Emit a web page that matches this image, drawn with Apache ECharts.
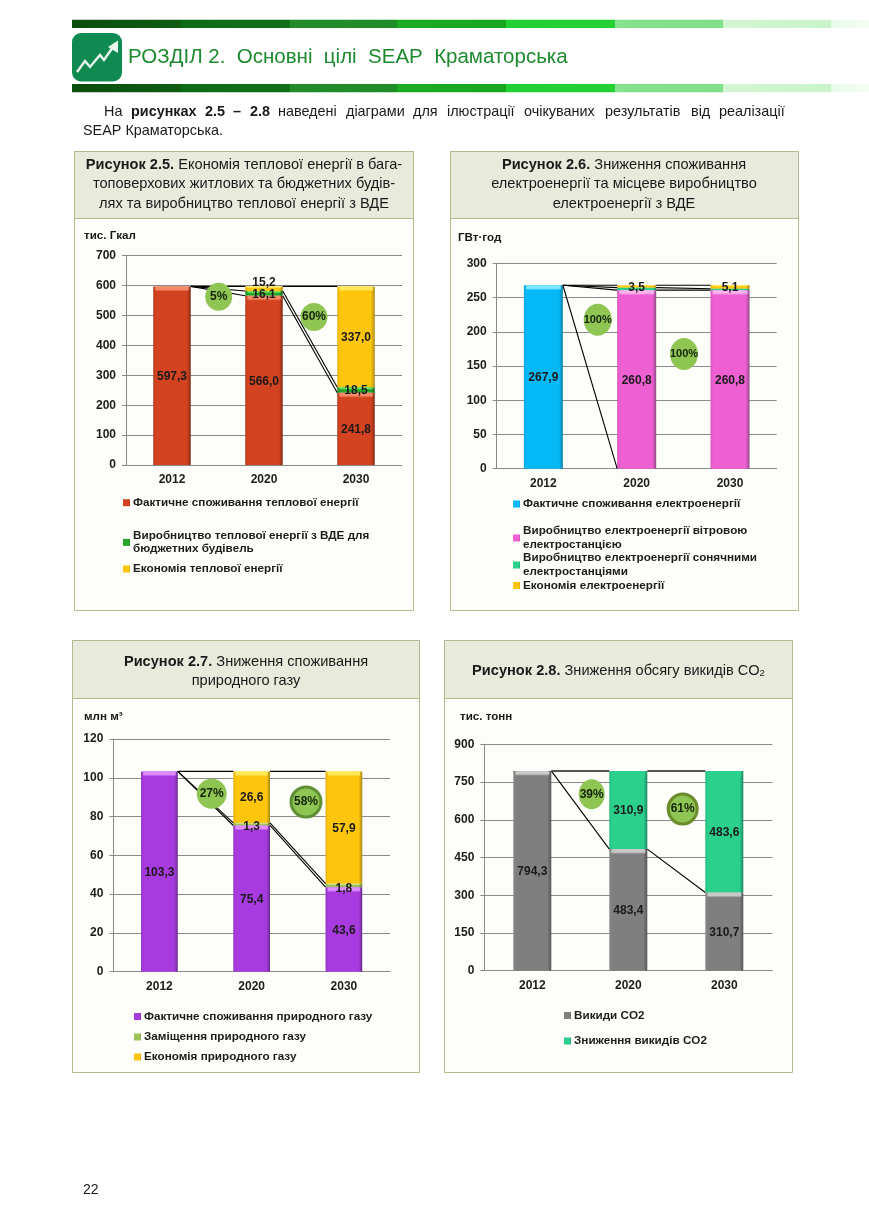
<!DOCTYPE html>
<html><head><meta charset="utf-8">
<style>html,body{margin:0;padding:0;background:#fff}#c{width:869px;height:1228px}</style>
<script src="https://cdn.jsdelivr.net/npm/echarts@6/dist/echarts.min.js"></script>
</head><body><div id="c"></div>
<script>
const years = ['2012','2020','2030'];

// Рисунок 2.5
const heatActual = [597.3, 566.0, 241.8];
const heatRenewable = [0, 16.1, 18.5];
const heatSaving = [0, 15.2, 337.0];
const heatTicks = [0, 700, 100];
// Рисунок 2.6
const powerActual = [267.9, 0, 0];
const powerWind = [0, 260.8, 260.8];
const powerSolar = [0, 3.6, 2.0];
const powerSaving = [0, 3.5, 5.1];
const powerTicks = [0, 300, 50];
// Рисунок 2.7
const gasActual = [103.3, 75.4, 43.6];
const gasReplace = [0, 1.3, 1.8];
const gasSaving = [0, 26.6, 57.9];
const gasTicks = [0, 120, 20];
// Рисунок 2.8
const co2Actual = [794.3, 483.4, 310.7];
const co2Saving = [0, 310.9, 483.6];
const co2Ticks = [0, 900, 150];

const FONT = '"Liberation Sans", Arial, sans-serif';
const INK = '#1c1c1c';

function shade(mid, edgeL, edgeR){
  return {type:'linear',x:0,y:0,x2:1,y2:0,colorStops:[
    {offset:0,color:edgeL},{offset:.07,color:mid},{offset:.9,color:mid},{offset:1,color:edgeR}]};
}
const RED = {c:shade('#d4431f','#b03a1c','#7e2c16'),hi:'#f58a68'};
const GRN = {c:shade('#27a62c','#1c8a22','#12661a'),hi:'#6fe25f'};
const YEL = {c:shade('#fdc60c','#e4b00c','#a98a14'),hi:'#ffe95a'};
const BLU = {c:shade('#05b9f7','#10a8dc','#0f7fa8'),hi:'#7fe6ff'};
const PNK = {c:shade('#ee5fd2','#d653bb','#94478a'),hi:'#ffb4ee'};
const TEA = {c:shade('#2bd08c','#25b87c','#1c8a62'),hi:'#2bd08c'};
const PUR = {c:shade('#a83be0','#9433c6','#6a2a8e'),hi:'#e08cff'};
const OLV = {c:shade('#9cc25a','#8aac50','#5f7a3a'),hi:'#c6e08a'};
const GRY = {c:shade('#7f7f7f','#8a8a8a','#565656'),hi:'#c8c8c8'};

const charts = [
 {box:[126,255.7,276,209.3], bw:37.5, ticks:heatTicks, unit:'тис. Гкал', unitPos:[84,236],
  stacks:[
   {name:'Фактичне споживання теплової енергії', data:heatActual, st:RED, shift:[0,0,0]},
   {name:'Виробництво теплової енергії з ВДЕ для\nбюджетних будівель', data:heatRenewable, st:GRN, shift:[0,0,0]},
   {name:'Економія теплової енергії', data:heatSaving, st:YEL, shift:[0,-7,0]}],
  legends:[[123,502.7],[123,542.4],[123,569]]},
 {box:[496.7,263.3,280,205.4], bw:39, ticks:powerTicks, unit:'ГВт·год', unitPos:[458,238],
  stacks:[
   {name:'Фактичне споживання електроенергії', data:powerActual, st:BLU, shift:[0,0,0]},
   {name:'Виробництво електроенергії вітровою\nелектростанцією', data:powerWind, st:PNK, shift:[0,0,0]},
   {name:'Виробництво електроенергії сонячними\nелектростанціями', data:powerSolar, st:TEA, shift:[0,0,0], noLabel:true},
   {name:'Економія електроенергії', data:powerSaving, st:YEL, shift:[0,0,0]}],
  legends:[[513,504],[513,538],[513,565],[513,585.5]]},
 {box:[113.3,739,276.7,232.7], bw:36.7, ticks:gasTicks, unit:'млн м³', unitPos:[84,717],
  stacks:[
   {name:'Фактичне споживання природного газу', data:gasActual, st:PUR, shift:[0,0,0]},
   {name:'Заміщення природного газу', data:gasReplace, st:OLV, shift:[0,1,2]},
   {name:'Економія природного газу', data:gasSaving, st:YEL, shift:[0,0,0]}],
  legends:[[134,1016.5],[134,1037],[134,1057]]},
 {box:[484.3,744.3,288,226.4], bw:38, ticks:co2Ticks, unit:'тис. тонн', unitPos:[460,717], topLine:{stroke:'#555',width:2},
  stacks:[
   {name:'Викиди CO2', data:co2Actual, st:GRY, shift:[0,0,0]},
   {name:'Зниження викидів CO2', data:co2Saving, st:TEA, shift:[0,0,0]}],
  legends:[[564,1015.5],[564,1041]]}
];

const badgeList = [
 {t:'5%',   x:218.7,y:296.7,rx:13.5,ry:14},
 {t:'60%',  x:314,  y:317,  rx:13.5,ry:14},
 {t:'100%', x:597.7,y:319.7,rx:14,  ry:16, tight:true},
 {t:'100%', x:684,  y:354,  rx:14,  ry:16, tight:true},
 {t:'27%',  x:211.7,y:793.7,rx:15,  ry:15},
 {t:'58%',  x:306,  y:802,  rx:15,  ry:15, ring:'#5f8f35'},
 {t:'39%',  x:591.7,y:794.3,rx:13,  ry:15},
 {t:'61%',  x:682.7,y:809,  rx:14.5,ry:15, ring:'#6b8a2a'}
];

const panels = [
 {x:74.5,y:151.5,w:339,h:459,head:67,cx:244,lines:[
   [{b:'Рисунок 2.5. '},{n:'Економія теплової енергії в бага-'}],
   [{n:'топоверхових житлових та бюджетних будів-'}],
   [{n:'лях та виробництво теплової енергії з ВДЕ'}]],ly:164.5},
 {x:450.5,y:151.5,w:348,h:459,head:67,cx:624,lines:[
   [{b:'Рисунок 2.6. '},{n:'Зниження споживання'}],
   [{n:'електроенергії та місцеве виробництво'}],
   [{n:'електроенергії з ВДЕ'}]],ly:164.5},
 {x:72.5,y:640.5,w:347,h:432,head:58,cx:246,lines:[
   [{b:'Рисунок 2.7. '},{n:'Зниження споживання'}],
   [{n:'природного газу'}]],ly:661.5},
 {x:444.5,y:640.5,w:348,h:432,head:58,cx:618.5,lines:[
   [{b:'Рисунок 2.8. '},{n:'Зниження обсягу викидів CO'},{s:'2'}]],ly:670.5}
];

const headSegs = [[72,181,'#0b4d0e','#0e5c12'],[181,290,'#0d6b14','#10701a'],[290,397,'#238a2a','#1f8d26'],
  [397,506,'#1aab22','#18a820'],[506,615,'#22cf30','#25d033'],[615,723,'#86e28c','#80df88'],
  [723,831,'#d2f6d2','#caf3ca'],[831,869,'#eafbea','#f2fdf2']];

const graphic = [];
function txt(x,y,text,o){ graphic.push({type:'text',x,y,z:o.z||5,silent:true,
  style:Object.assign({text,font:o.font,fill:o.fill||'#1a1a1a',textAlign:o.align||'left',textVerticalAlign:'middle'},o.rich?{rich:o.rich}:{})}); }

[[19.7,8.3],[84,8.3]].forEach(([y,h])=>headSegs.forEach(s=>graphic.push({type:'rect',z:-5,silent:true,
  shape:{x:s[0],y,width:s[1]-s[0],height:h},
  style:{fill:{type:'linear',x:0,y:0,x2:1,y2:0,colorStops:[{offset:0,color:s[2]},{offset:1,color:s[3]}]}}})));
graphic.push({type:'rect',z:-5,silent:true,shape:{x:72,y:33,width:50,height:48.5,r:9},style:{fill:'#0f8a50'}});
graphic.push({type:'polyline',z:-4,silent:true,shape:{points:[[77,72],[85,61],[90,67],[100,55],[104,60],[113,47]]},
  style:{stroke:'#e8f6ee',lineWidth:2.4,fill:'none'}});
graphic.push({type:'polygon',z:-4,silent:true,shape:{points:[[118,40.5],[118,53],[108,47]]},style:{fill:'#e8f6ee'}});
txt(128,57,'РОЗДІЛ 2.  Основні  цілі  SEAP  Краматорська',{font:'20.5px '+FONT,fill:'#1d8a2f'});

const bodyFont='14.4px '+FONT, bodyBold='bold 14.4px '+FONT;
[[104,'На',0],[131,'рисунках',1],[205,'2.5',1],[233,'–',1],[250,'2.8',1],[278,'наведені',0],[346,'діаграми',0],[413,'для',0],[447,'ілюстрації',0],
 [524,'очікуваних',0],[605,'результатів',0],[691,'від',0],[719,'реалізації',0]].forEach(w=>
   txt(w[0],112,w[1],{font:w[2]?bodyBold:bodyFont}));
txt(83,131,'SEAP Краматорська.',{font:bodyFont});
txt(83,1190,'22',{font:'14px '+FONT});

panels.forEach(p=>{
  graphic.push({type:'rect',z:-5,silent:true,shape:{x:p.x,y:p.y,width:p.w,height:p.h},style:{fill:'#fdfdf9',stroke:'#aebd8e',lineWidth:1}});
  graphic.push({type:'rect',z:-4,silent:true,shape:{x:p.x,y:p.y,width:p.w,height:p.head},style:{fill:'#e8ebdc',stroke:'#aebd8e',lineWidth:1}});
  p.lines.forEach((ln,i)=>{
    const text=ln.map(r=>r.b?`{b|${r.b}}`:r.s?`{s|${r.s}}`:`{n|${r.n}}`).join('');
    txt(p.cx,p.ly+i*19.5,text,{font:'14.6px '+FONT,align:'center',rich:{
      b:{font:'bold 14.6px '+FONT,fill:'#1a1a1a'},n:{font:'14.6px '+FONT,fill:'#1a1a1a'},
      s:{font:'9.5px '+FONT,fill:'#1a1a1a',padding:[5,0,0,0]}}});
  });
});
charts.forEach(c=>txt(c.unitPos[0],c.unitPos[1],c.unit,{font:'bold 11.6px '+FONT}));
badgeList.forEach(b=>{
  graphic.push({type:'ellipse',z:60,silent:true,shape:{cx:b.x,cy:b.y,rx:b.rx,ry:b.ry},
    style:b.ring?{fill:'#8fc552',stroke:b.ring,lineWidth:3}:{fill:'#8fc552'}});
  txt(b.x,b.y,b.t,{font:(b.tight?'bold 11px ':'bold 12px ')+FONT,align:'center',z:61,fill:'#14240c'});
});

const fmt = v => v.toFixed(1).replace('.',',');
const LEG_LH = 13.5;
const grid=[],xAxis=[],yAxis=[],series=[],legend=[];
charts.forEach((c,k)=>{
  grid.push({left:c.box[0],top:c.box[1],width:c.box[2],height:c.box[3],containLabel:false});
  xAxis.push({type:'category',gridIndex:k,data:years,axisTick:{show:false},
    axisLine:{lineStyle:{color:'#8a8a8a',width:1}},
    axisLabel:{color:INK,margin:9,fontWeight:'bold',fontSize:12,fontFamily:FONT}});
  yAxis.push({type:'value',gridIndex:k,min:c.ticks[0],max:c.ticks[1],interval:c.ticks[2],
    axisLine:{show:true,lineStyle:{color:'#8a8a8a',width:1}},
    axisTick:{show:true,length:4,lineStyle:{color:'#8a8a8a'}},
    splitLine:{show:true,lineStyle:{color:'#8a8a8a',width:1}},
    axisLabel:{color:INK,fontWeight:'bold',fontSize:12,fontFamily:FONT,margin:10}});

  c.stacks.forEach((s,j)=>{
    series.push({type:'bar',name:s.name,xAxisIndex:k,yAxisIndex:k,stack:'s'+k,barWidth:c.bw,z:2,
      itemStyle:{color:s.st.c},emphasis:{disabled:true},data:s.data});
    const p=c.legends[j];
    const nLines=s.name.split('\n').length;
    legend.push({data:[s.name],left:p[0],top:p[1]-nLines*LEG_LH/2,orient:'vertical',itemWidth:7,itemHeight:7,padding:0,selectedMode:false,
      icon:'rect',textStyle:{color:INK,fontWeight:'bold',fontSize:11.7,fontFamily:FONT,lineHeight:LEG_LH,padding:[0,0,0,-2]}});
  });

  // cumulative tops of the stack at each year
  const cum=c.stacks.map((_,j)=>years.map((_,i)=>c.stacks.slice(0,j+1).reduce((a,s)=>a+(s.data[i]||0),0)));
  // highlights on top of each segment
  const hiRows=[];
  c.stacks.forEach((s,j)=>years.forEach((_,i)=>{ if(s.data[i]>0) hiRows.push([i,cum[j][i],cum[j][i]-s.data[i],j]); }));
  series.push({type:'custom',silent:true,xAxisIndex:k,yAxisIndex:k,z:3,data:hiRows,clip:false,
    renderItem:(params,api)=>{
      const top=api.coord([api.value(0),api.value(1)]),bot=api.coord([api.value(0),api.value(2)]);
      const st=c.stacks[api.value(3)].st; const h=Math.min(5,(bot[1]-top[1])*0.45);
      return {type:'rect',shape:{x:top[0]-c.bw/2+2,y:top[1],width:c.bw-4,height:h,r:1.5},
        style:{fill:{type:'linear',x:0,y:0,x2:0,y2:1,colorStops:[{offset:0,color:st.hi},{offset:.6,color:st.hi},{offset:1,color:st.hi+'00'}]}}};
    }});
  // series lines between neighbouring bars
  const rows=[];
  c.stacks.forEach((s,j)=>[0,1].forEach(i=>{ if(cum[j][i]>0||cum[j][i+1]>0) rows.push([i,cum[j][i],i+1,cum[j][i+1]]); }));
  series.push({type:'custom',silent:true,xAxisIndex:k,yAxisIndex:k,z:4,data:rows,clip:false,
    renderItem:(params,api)=>{
      const a=api.coord([api.value(0),api.value(1)]),b=api.coord([api.value(2),api.value(3)]);
      const flat=api.value(1)===api.value(3)&&c.topLine;
      return {type:'line',shape:{x1:a[0]+c.bw/2,y1:a[1],x2:b[0]-c.bw/2,y2:b[1]},
        style:{stroke:flat?c.topLine.stroke:'#000',lineWidth:flat?c.topLine.width:1.1}};
    }});
  // value labels above everything
  const labRows=[];
  c.stacks.forEach((s,j)=>{ if(s.noLabel) return; years.forEach((_,i)=>{ if(s.data[i]>0) labRows.push([i,cum[j][i]-s.data[i]/2,s.data[i],s.shift[i]]); }); });
  series.push({type:'custom',silent:true,xAxisIndex:k,yAxisIndex:k,z:5,data:labRows,clip:false,
    renderItem:(params,api)=>{
      const p=api.coord([api.value(0),api.value(1)]);
      return {type:'text',x:p[0],y:p[1]+api.value(3)+1,
        style:{text:fmt(api.value(2)),font:'bold 12px '+FONT,fill:'#1a1a1a',textAlign:'center',textVerticalAlign:'middle'}};
    }});
});

const chart=echarts.init(document.getElementById('c'),null,{renderer:'canvas'});
chart.setOption({animation:false,backgroundColor:'#ffffff',tooltip:{show:false},grid,xAxis,yAxis,series,legend,graphic:{elements:graphic}});
</script></body></html>
